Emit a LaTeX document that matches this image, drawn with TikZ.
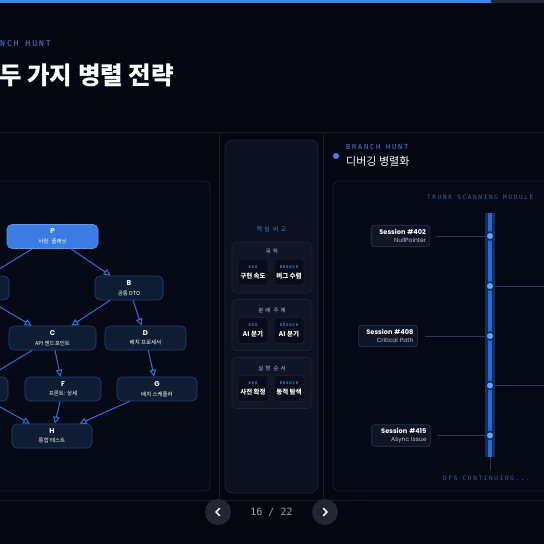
\documentclass[tikz,border=0pt]{standalone}
\usepackage{fontspec}
\setmainfont{Noto Sans CJK KR}
\newfontfamily\latinfont{Poppins}
\newfontfamily\codefont[LetterSpace=25]{DejaVu Sans Mono}
\newfontfamily\codewide[LetterSpace=28]{DejaVu Sans Mono}
\newfontfamily\plaincode{DejaVu Sans Mono}
\newfontfamily\krwide[LetterSpace=35]{Noto Sans CJK KR}
\usetikzlibrary{arrows.meta}

\definecolor{bgdark}{RGB}{4,7,18}
\definecolor{bartrack}{RGB}{32,38,50}
\definecolor{accent}{RGB}{59,130,246}
\definecolor{panelline}{RGB}{22,29,44}
\definecolor{cardline}{RGB}{24,32,48}
\definecolor{cardfill}{RGB}{5,9,21}
\definecolor{midfill}{RGB}{11,17,31}
\definecolor{midline}{RGB}{28,38,58}
\definecolor{cmpfill}{RGB}{15,22,38}
\definecolor{cmpline}{RGB}{27,37,57}
\definecolor{cellfill}{RGB}{8,13,26}
\definecolor{dagfill}{RGB}{14,28,52}
\definecolor{dagline}{RGB}{36,66,115}
\definecolor{pfill}{RGB}{58,124,226}
\definecolor{arrowblue}{RGB}{48,112,218}
\definecolor{kicker}{RGB}{72,128,215}
\definecolor{dimblue}{RGB}{62,100,160}
\definecolor{mutedtext}{RGB}{185,195,210}
\definecolor{sessfill}{RGB}{14,22,38}
\definecolor{sessline}{RGB}{40,54,80}
\definecolor{trunkglow}{RGB}{20,44,92}
\definecolor{trunkcore}{RGB}{40,104,214}
\definecolor{dotfill}{RGB}{96,166,252}
\definecolor{branchline}{RGB}{42,56,84}
\definecolor{navfill}{RGB}{33,39,52}
\definecolor{pagetext}{RGB}{150,158,172}

\newcommand\dagid{\latinfont\bfseries\fontsize{7}{9.5}\selectfont}
\newcommand\dagsub{\fontsize{5.5}{9.5}\selectfont}
\newcommand\celltag{\codefont\bfseries\fontsize{3.8}{10}\selectfont}
\newcommand\cellval{\bfseries\fontsize{6.5}{10}\selectfont}
\newcommand\sessid{\latinfont\bfseries\fontsize{6.6}{8.5}\selectfont}

\tikzset{
  dagnode/.style={rounded corners=5pt, draw=dagline, fill=dagfill, line width=0.6pt,
    align=center, inner sep=0pt, minimum height=24pt, text=white, font=\dagsub},
  startnode/.style={dagnode, fill=pfill, draw=pfill!80!white},
  dagarrow/.style={draw=arrowblue, line width=1pt, -{Triangle[length=7pt,width=6.5pt]}},
  cmpcard/.style={rounded corners=4pt, draw=cmpline, fill=cmpfill, line width=0.6pt,
    minimum width=80pt, minimum height=51pt, inner sep=0pt},
  cmpcell/.style={rounded corners=3pt, draw=cmpline, fill=cellfill, line width=0.5pt,
    minimum width=30pt, minimum height=26pt, inner sep=0pt, align=center, text=white,
    font=\cellval},
  session/.style={rounded corners=3pt, draw=sessline, fill=sessfill, line width=0.6pt,
    inner xsep=3.8pt, inner ysep=0pt, minimum height=21.5pt, align=right, text=white,
    text width=51pt, font=\latinfont\fontsize{6}{8.5}\selectfont},
  junction/.style={circle, fill=dotfill, draw=trunkglow, line width=1.6pt,
    minimum size=8pt, inner sep=0pt},
  branch/.style={draw=branchline, line width=1pt},
  navbtn/.style={circle, fill=navfill, minimum size=26pt, inner sep=0pt},
  navchev/.style={draw=white, line width=1.6pt, line cap=round, line join=round},
}

\begin{document}
\begin{tikzpicture}[x=1pt,y=-1pt]
\useasboundingbox (0,0) rectangle (544,544);
\clip (0,0) rectangle (544,544);
\fill[bgdark] (0,0) rectangle (544,544);

% progress bar
\fill[accent] (0,0) rectangle (491,3);
\fill[bartrack] (491,0) rectangle (544,3);

% slide heading
\node[anchor=west, inner sep=0pt, text=kicker, font=\codefont\fontsize{8}{9}\selectfont] (kick) at (0,43.5) {NCH HUNT};
\node[anchor=west, inner sep=0pt, text=white, font=\bfseries\fontsize{24.5}{27}\selectfont] (title) at (-1,75) {두 가지 병렬 전략};

% panel frame
\draw[panelline, line width=0.8pt] (0,132) -- (544,132);
\draw[panelline, line width=0.8pt] (0,500) -- (544,500);
\draw[panelline, line width=0.8pt] (219.5,132) -- (219.5,500);
\draw[panelline, line width=0.8pt] (323,132) -- (323,500);

% left: dag card
\draw[cardline, fill=cardfill, line width=0.7pt, rounded corners=6pt] (-10,181) rectangle (210,491);

\node[startnode, minimum width=91pt] (p) at (52.5,236.5) {{\dagid P}\\사람·플래닝};
\node[dagnode, minimum width=82pt] (a) at (-32,288) {};
\node[dagnode, minimum width=68pt] (b) at (129,288) {{\dagid B}\\공통 DTO};
\node[dagnode, minimum width=87pt] (c) at (52.5,338) {{\dagid C}\\API 엔드포인트};
\node[dagnode, minimum width=81pt] (d) at (145.5,338) {{\dagid D}\\배치 프로세서};
\node[dagnode, minimum width=80pt] (e) at (-32,389) {};
\node[dagnode, minimum width=76pt] (f) at (63,389) {{\dagid F}\\프론트: 상세};
\node[dagnode, minimum width=80pt] (g) at (157,389) {{\dagid G}\\배치 스케줄러};
\node[dagnode, minimum width=80pt] (h) at (52,436) {{\dagid H}\\통합 테스트};

\path[dagarrow] (p) edge (a);
\path[dagarrow] (p) edge (b);
\path[dagarrow] (a) edge (c);
\path[dagarrow] (b) edge (c);
\path[dagarrow] (b) edge (d);
\path[dagarrow] (c) edge (e);
\path[dagarrow] (c) edge (f);
\path[dagarrow] (d) edge (g);
\path[dagarrow] (e) edge (h);
\path[dagarrow] (f) edge (h);
\path[dagarrow] (g) edge (h);

% middle: comparison column
\draw[midline, fill=midfill, line width=0.7pt, rounded corners=8pt] (225,140) rectangle (318,493);
\node[text=kicker, font=\krwide\fontsize{6}{7}\selectfont] (cmphead) at (271.5,229) {핵심 비교};

\node[cmpcard] (card1) at (272,267.5) {};
\node[text=mutedtext, font=\krwide\fontsize{5.5}{7}\selectfont] (goal) at (272,251) {목적};
\node[cmpcell] (dag1) at (253,272) {{\celltag\color{kicker}DAG}\\구현 속도};
\node[cmpcell] (br1) at (289,272) {{\celltag\color{kicker}BRANCH}\\버그 수렴};

\node[cmpcard] (card2) at (272,325) {};
\node[text=mutedtext, font=\krwide\fontsize{5.5}{7}\selectfont] (who) at (272,310) {분배 주체};
\node[cmpcell] (dag2) at (253,330.5) {{\celltag\color{kicker}DAG}\\AI 분기};
\node[cmpcell] (br2) at (289,330.5) {{\celltag\color{kicker}BRANCH}\\AI 분기};

\node[cmpcard] (card3) at (272,383) {};
\node[text=mutedtext, font=\krwide\fontsize{5.5}{7}\selectfont] (order) at (272,368) {실행 순서};
\node[cmpcell] (dag3) at (253,388.5) {{\celltag\color{kicker}DAG}\\사전 확정};
\node[cmpcell] (br3) at (289,388.5) {{\celltag\color{kicker}BRANCH}\\동적 탐색};

% right: branch hunt panel
\fill[accent] (336,156) circle (3pt);
\node[anchor=west, inner sep=0pt, text=kicker, font=\codefont\fontsize{7}{8}\selectfont] (bhkick) at (346,147) {BRANCH HUNT};
\node[anchor=west, inner sep=0pt, text=white, font=\fontsize{11}{12}\selectfont] (bhtitle) at (346,161) {디버깅 병렬화};

\draw[cardline, fill=cardfill, line width=0.7pt, rounded corners=6pt] (333,181) rectangle (560,491);
\node[anchor=west, inner sep=0pt, text=dimblue, font=\codewide\fontsize{6}{7}\selectfont] (module) at (427,197) {TRUNK SCANNING MODULE};

\coordinate (ttop) at (490,213);
\coordinate (tbot) at (490,457);
\coordinate (tend) at (490,470);
\draw[trunkglow, line width=10pt] (ttop) -- (tbot);
\draw[trunkcore, line width=4pt] (ttop) -- (tbot);
\draw[branchline, line width=1pt] (tbot) -- (tend);

\node[junction] (j1) at (490,236) {};
\node[junction] (j2) at (490,286) {};
\node[junction] (j3) at (490,336) {};
\node[junction] (j4) at (490,385.5) {};
\node[junction] (j5) at (490,435.5) {};

\node[session] (s402) at (400.5,236) {{\sessid Session \#402}\\{\color{mutedtext}NullPointer}};
\node[session] (s408) at (388,336) {{\sessid Session \#408}\\{\color{mutedtext}Critical Path}};
\node[session] (s415) at (401,435.5) {{\sessid Session \#415}\\{\color{mutedtext}Async Issue}};

\coordinate (r2) at (550,286);
\coordinate (r4) at (550,385.5);

\draw[branch, shorten <=6pt] (s402) -- (j1);
\draw[branch] (j2) -- (r2);
\draw[branch, shorten <=7pt] (s408) -- (j3);
\draw[branch] (j4) -- (r4);
\draw[branch, shorten <=7pt] (s415) -- (j5);

\node[anchor=west, inner sep=0pt, text=dimblue, font=\codewide\fontsize{6}{7}\selectfont] (dfs) at (443,478) {DFS CONTINUING...};

% page navigation
\node[navbtn] (prev) at (218,512) {};
\node[navbtn] (next) at (325,512) {};
\draw[navchev] (prev.center) ++(1.5,-3.5) -- ++(-3.5,3.5) -- ++(3.5,3.5);
\draw[navchev] (next.center) ++(-1.5,-3.5) -- ++(3.5,3.5) -- ++(-3.5,3.5);
\node[text=pagetext, font=\plaincode\fontsize{10}{12}\selectfont] (page) at (271.5,512) {16 / 22};

\end{tikzpicture}
\end{document}
